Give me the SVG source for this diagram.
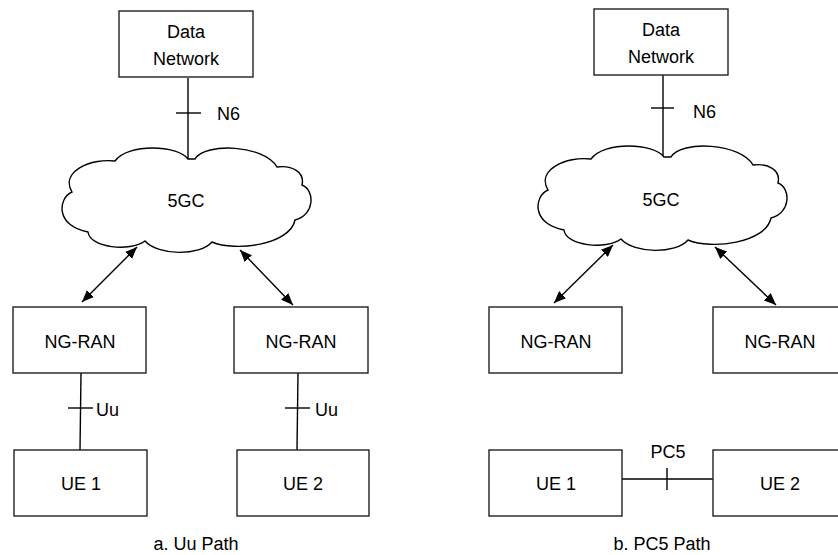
<svg xmlns="http://www.w3.org/2000/svg" width="838" height="555" viewBox="0 0 838 555">
<style>
.box{fill:#fff;stroke:#222;stroke-width:1.4}
.cloud{fill:#fff;stroke:#000;stroke-width:1.4}
.ln{fill:none;stroke:#000;stroke-width:1.4}
.t{font-family:"Liberation Sans",Arial,sans-serif;font-size:18px;fill:#000;text-anchor:middle}
.l{font-family:"Liberation Sans",Arial,sans-serif;font-size:18px;fill:#000}
</style>
<defs>
<marker id="ah" viewBox="0 0 12 10" refX="12" refY="5" markerWidth="12" markerHeight="10" markerUnits="userSpaceOnUse" orient="auto-start-reverse">
<path d="M0,0 L12,5 L0,10 Z" fill="#000"/>
</marker>
<path id="cloudShape" class="cloud" d="M188,159 C178,145 128,143 115,161 C90,158 60,172 72,192 C58,198 55,226 88,232 C90,248 130,252 145,241 C158,256 200,256 212,242 C235,252 290,245 295,220 C315,215 315,190 302,185 C305,172 292,165 277,167 C265,145 205,142 195,159 Z"/>
</defs>
<rect width="838" height="555" fill="#fff"/>

<g id="connectors">
<line class="ln" x1="188" y1="78" x2="188" y2="159"/>
<line class="ln" x1="176" y1="113" x2="201" y2="113"/>
<line class="ln" x1="663" y1="75" x2="663" y2="157"/>
<line class="ln" x1="651" y1="108" x2="674" y2="108"/>
<line class="ln" x1="82" y1="302" x2="137" y2="247" marker-start="url(#ah)" marker-end="url(#ah)"/>
<line class="ln" x1="240" y1="250" x2="293" y2="305" marker-start="url(#ah)" marker-end="url(#ah)"/>
<line class="ln" x1="554" y1="303" x2="613" y2="245" marker-start="url(#ah)" marker-end="url(#ah)"/>
<line class="ln" x1="715" y1="247" x2="776" y2="305" marker-start="url(#ah)" marker-end="url(#ah)"/>
<line class="ln" x1="81" y1="373" x2="80" y2="450"/>
<line class="ln" x1="68" y1="408" x2="93" y2="408"/>
<line class="ln" x1="298" y1="373" x2="297" y2="450"/>
<line class="ln" x1="285" y1="408" x2="310" y2="408"/>
<line class="ln" x1="622" y1="479" x2="713" y2="479"/>
<line class="ln" x1="667" y1="468" x2="667" y2="490"/>
</g>

<g id="dn-a"><rect class="box" x="119" y="11" width="134" height="66"/><text class="t" x="186" y="38">Data</text><text class="t" x="186" y="65">Network</text></g>
<g id="cloud-a"><use href="#cloudShape"/><text class="t" x="186" y="207">5GC</text></g>
<g id="ngran-a1"><rect class="box" x="13" y="307" width="133" height="66"/><text class="t" x="80" y="348">NG-RAN</text></g>
<g id="ngran-a2"><rect class="box" x="234" y="307" width="134" height="66"/><text class="t" x="301" y="348">NG-RAN</text></g>
<g id="ue-a1"><rect class="box" x="14" y="450" width="133" height="66"/><text class="t" x="81" y="490">UE 1</text></g>
<g id="ue-a2"><rect class="box" x="237" y="450" width="132" height="66"/><text class="t" x="303" y="490">UE 2</text></g>

<g id="dn-b"><rect class="box" x="594" y="9" width="134" height="66"/><text class="t" x="661" y="36">Data</text><text class="t" x="661" y="63">Network</text></g>
<g id="cloud-b"><use href="#cloudShape" transform="translate(476,-2)"/><text class="t" x="661" y="206">5GC</text></g>
<g id="ngran-b1"><rect class="box" x="489" y="307" width="133" height="66"/><text class="t" x="556" y="348">NG-RAN</text></g>
<g id="ngran-b2"><rect class="box" x="713" y="307" width="134" height="66"/><text class="t" x="780" y="348">NG-RAN</text></g>
<g id="ue-b1"><rect class="box" x="489" y="450" width="133" height="66"/><text class="t" x="556" y="490">UE 1</text></g>
<g id="ue-b2"><rect class="box" x="713" y="450" width="134" height="66"/><text class="t" x="780" y="490">UE 2</text></g>

<g id="labels">
<text class="l" x="217" y="120">N6</text>
<text class="l" x="693" y="118">N6</text>
<text class="l" x="96" y="416">Uu</text>
<text class="l" x="315" y="416">Uu</text>
<text class="t" x="668" y="458">PC5</text>
<text class="t" x="196" y="550">a. Uu Path</text>
<text class="t" x="662" y="550">b. PC5 Path</text>
</g>
</svg>
